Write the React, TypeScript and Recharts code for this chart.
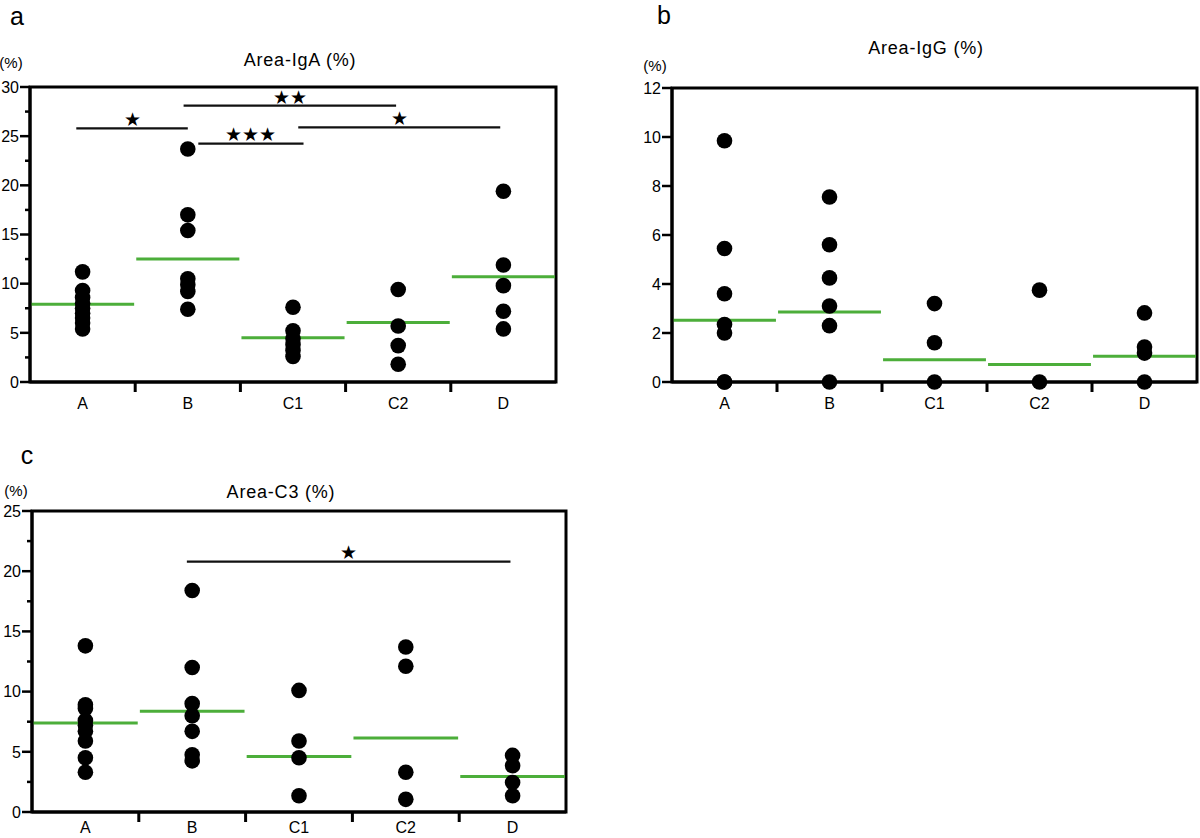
import React from 'react';
import { ScatterChart, Scatter, XAxis, YAxis, ReferenceLine, ReferenceArea } from 'recharts';

const groups = ['A', 'B', 'C1', 'C2', 'D'];

// a: Area-IgA (%)
const igaA = [11.2, 9.3, 8.6, 8.0, 7.5, 7.0, 6.5, 6.0, 5.4];
const igaB = [23.7, 17.0, 15.4, 10.5, 9.9, 9.2, 7.4];
const igaC1 = [7.6, 5.2, 4.4, 3.8, 3.2, 2.6];
const igaC2 = [9.4, 5.7, 3.7, 1.8];
const igaD = [19.4, 11.9, 9.8, 7.2, 5.4];
const igaMeans = [7.9, 12.5, 4.5, 6.05, 10.7];
const igaSig = [
  { from: 'A', to: 'B', y: 25.8, label: '★' },
  { from: 'B', to: 'C2', y: 28.1, label: '★★' },
  { from: 'B', to: 'C1', y: 24.25, label: '★★★' },
  { from: 'C1', to: 'D', y: 25.9, label: '★' },
];

// b: Area-IgG (%)
const iggA = [9.85, 5.45, 3.6, 2.35, 2.0, 0, 0];
const iggB = [7.55, 5.6, 4.25, 3.1, 2.3, 0];
const iggC1 = [3.2, 1.6, 0];
const iggC2 = [3.75, 0];
const iggD = [2.82, 1.43, 1.18, 0];
const iggMeans = [2.52, 2.86, 0.91, 0.71, 1.05];

// c: Area-C3 (%)
const c3A = [13.8, 8.9, 8.6, 7.6, 7.2, 6.7, 5.9, 4.5, 3.3];
const c3B = [18.4, 12.0, 9.0, 8.0, 6.7, 4.75, 4.25];
const c3C1 = [10.1, 5.9, 4.5, 1.35];
const c3C2 = [13.7, 12.1, 3.3, 1.05];
const c3D = [4.7, 3.85, 2.45, 1.35];
const c3Means = [7.39, 8.36, 4.62, 6.15, 2.95];
const c3Sig = [{ from: 'B', to: 'D', y: 20.8, label: '★' }];

const FONT = '"Liberation Sans", Arial, sans-serif';
const TICK = 10;
const GREEN = '#4cae3a';

function YTick(props: any) {
  const { x, y, payload, minor } = props;
  const ax = x + TICK;
  const v = payload.value;
  const major = !minor || v % 5 === 0;
  return (
    <g>
      <line x1={ax} x2={ax - (major ? TICK : 5)} y1={y} y2={y} stroke="#000" strokeWidth={2.5} />
      {major && (
        <text x={ax - TICK - 1} y={y} dy="0.36em" textAnchor="end" fontSize={16} fontFamily={FONT} fill="#000">
          {v}
        </text>
      )}
    </g>
  );
}

function XTick(props: any) {
  const { x, y, payload, labelGap } = props;
  const ay = y - TICK;
  const v = payload.value;
  if (Number.isInteger(v)) {
    return <line x1={x} x2={x} y1={ay} y2={ay + TICK} stroke="#000" strokeWidth={3} />;
  }
  return (
    <text x={x} y={ay + labelGap} dy="0.36em" textAnchor="middle" fontSize={16} fontFamily={FONT} fill="#000">
      {groups[Math.floor(v)]}
    </text>
  );
}

// small horizontal nudges of the bracket ends, as drawn in the figure
const igaShift = [[-0.06, 0], [-0.04, -0.02], [0.1, 0.1], [0.05, -0.03]];
const c3Shift = [[-0.05, -0.02]];

interface PanelProps {
  values: number[][];
  means: number[];
  sig?: { from: string; to: string; y: number; label: string }[];
  shift?: number[][];
  yMax: number;
  yTicks: number[];
  minor: boolean;
  width: number;
  height: number;
  margin: { top: number; right: number; bottom: number; left: number };
  yWidth: number;
  xHeight: number;
  labelGap: number;
}

function Panel({ values, means, sig = [], shift = [], yMax, yTicks, minor, width, height, margin, yWidth, xHeight, labelGap }: PanelProps) {
  const points = values.flatMap((vals, i) => vals.map((v) => ({ x: i + 0.5, y: v })));
  const bars = sig.map((s, k) => {
    const x1 = groups.indexOf(s.from) + 0.5 + (shift[k] ? shift[k][0] : 0);
    const x2 = groups.indexOf(s.to) + 0.5 + (shift[k] ? shift[k][1] : 0);
    return { x1, x2, y: s.y, label: s.label };
  });
  const stars = bars.map((b) => ({ x: (b.x1 + b.x2) / 2, y: b.y, label: b.label }));
  return (
    <ScatterChart width={width} height={height} margin={margin}>
      <XAxis
        type="number"
        dataKey="x"
        domain={[0, 5]}
        ticks={[0.5, 1, 1.5, 2, 2.5, 3, 3.5, 4, 4.5]}
        interval={0}
        tickSize={TICK}
        tickMargin={0}
        tickLine={false}
        tick={(p: any) => <XTick {...p} labelGap={labelGap} />}
        height={xHeight}
        axisLine={{ stroke: '#000', strokeWidth: 3 }}
      />
      <YAxis
        type="number"
        dataKey="y"
        domain={[0, yMax]}
        ticks={yTicks}
        interval={0}
        tickSize={TICK}
        tickMargin={0}
        tickLine={false}
        tick={(p: any) => <YTick {...p} minor={minor} />}
        width={yWidth}
        axisLine={{ stroke: '#000', strokeWidth: 3 }}
      />
      <ReferenceArea x1={0} x2={5} y1={0} y2={yMax} fill="none" stroke="#000" strokeWidth={3} />
      {means.map((m, i) => (
        <ReferenceLine
          key={'m' + i}
          segment={[{ x: i + 0.01, y: m }, { x: i + 0.99, y: m }]}
          stroke={GREEN}
          strokeWidth={3}
          zIndex={100}
        />
      ))}
      {bars.map((b, k) => (
        <ReferenceLine
          key={'s' + k}
          segment={[{ x: b.x1, y: b.y }, { x: b.x2, y: b.y }]}
          stroke="#111"
          strokeWidth={2.2}
        />
      ))}
      <Scatter
        data={points}
        isAnimationActive={false}
        zIndex={900}
        shape={(p: any) => <circle cx={p.cx} cy={p.cy} r={7.8} fill="#000" />}
      />
      {stars.length > 0 && (
        <Scatter
          data={stars}
          isAnimationActive={false}
          zIndex={900}
          shape={(p: any) => (
            <text x={p.cx} y={p.cy - 9} dy="0.36em" textAnchor="middle" fontSize={19} fontFamily={FONT} fill="#000">
              {p.payload.label}
            </text>
          )}
        />
      )}
    </ScatterChart>
  );
}

function Txt({ x, y, size, children, spacing = 0 }: any) {
  return (
    <div
      style={{
        position: 'absolute',
        left: x,
        top: y,
        transform: 'translate(-50%, -50%)',
        fontFamily: FONT,
        fontSize: size,
        letterSpacing: spacing,
        whiteSpace: 'nowrap',
        lineHeight: 1,
        color: '#000',
      }}
    >
      {children}
    </div>
  );
}

export default function App() {
  return (
    <div style={{ position: 'absolute', left: 0, top: 0, width: 1200, height: 838, background: '#fff', overflow: 'hidden' }}>
      <div style={{ position: 'absolute', left: 0, top: 0 }}>
        <Panel
          values={[igaA, igaB, igaC1, igaC2, igaD]}
          means={igaMeans}
          sig={igaSig}
          shift={igaShift}
          yMax={30}
          yTicks={[0, 2.5, 5, 7.5, 10, 12.5, 15, 17.5, 20, 22.5, 25, 27.5, 30]}
          minor
          width={600}
          height={430}
          margin={{ top: 87, right: 44, bottom: 8, left: 0 }}
          yWidth={30}
          xHeight={40}
          labelGap={21}
        />
      </div>
      <div style={{ position: 'absolute', left: 600, top: 0 }}>
        <Panel
          values={[iggA, iggB, iggC1, iggC2, iggD]}
          means={iggMeans}
          yMax={12}
          yTicks={[0, 2, 4, 6, 8, 10, 12]}
          minor={false}
          width={600}
          height={430}
          margin={{ top: 88, right: 3, bottom: 8, left: 0 }}
          yWidth={72}
          xHeight={40}
          labelGap={21}
        />
      </div>
      <div style={{ position: 'absolute', left: 0, top: 420 }}>
        <Panel
          values={[c3A, c3B, c3C1, c3C2, c3D]}
          means={c3Means}
          sig={c3Sig}
          shift={c3Shift}
          yMax={25}
          yTicks={[0, 2.5, 5, 7.5, 10, 12.5, 15, 17.5, 20, 22.5, 25]}
          minor
          width={600}
          height={418}
          margin={{ top: 91, right: 34, bottom: 0, left: 0 }}
          yWidth={32}
          xHeight={26}
          labelGap={15}
        />
      </div>

      <Txt x={17} y={16} size={25}>a</Txt>
      <Txt x={664} y={15} size={25}>b</Txt>
      <Txt x={27} y={455} size={25}>c</Txt>

      <Txt x={300} y={60} size={18} spacing={0.8}>Area-IgA (%)</Txt>
      <Txt x={926} y={48} size={18} spacing={0.8}>Area-IgG (%)</Txt>
      <Txt x={281} y={492} size={18} spacing={0.8}>Area-C3 (%)</Txt>

      <Txt x={11} y={62} size={15}>(%)</Txt>
      <Txt x={655} y={65} size={15}>(%)</Txt>
      <Txt x={16} y={490} size={15}>(%)</Txt>
    </div>
  );
}
